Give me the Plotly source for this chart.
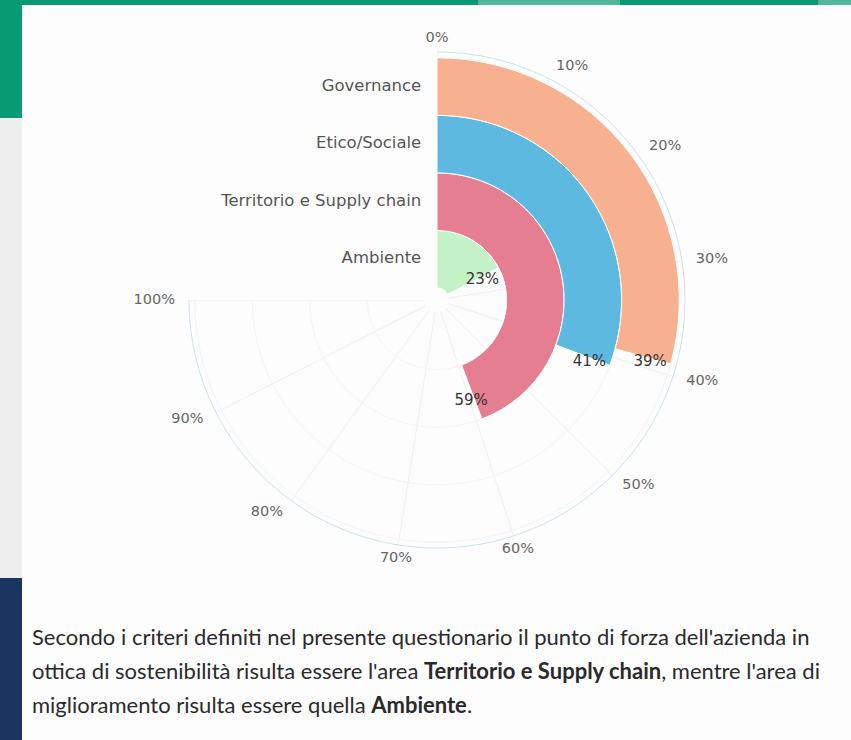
import math
import plotly.graph_objects as go

categories = ["Ambiente", "Territorio e Supply chain", "Etico/Sociale", "Governance"]
values = [23, 59, 41, 39]
colors = ["#c4f1c6", "#e57e90", "#5db9e0", "#f7b190"]
tick_pcts = [0, 10, 20, 30, 40, 50, 60, 70, 80, 90, 100]
tick_labels = [f"{t}%" for t in tick_pcts]

DEG = 270 / 100      # 100% spans three quarters of the circle
R_EDGE = 4.1         # radius of the visible outer circle (axis units)
HOLE_PX, EDGE_PX, FRAME_PX = 12, 248, 292
UNIT_PX = (EDGE_PX - HOLE_PX) / R_EDGE
R_MAX = (FRAME_PX - HOLE_PX) / UNIT_PX
CX, CY = 437, 300

fig = go.Figure()

# faint spokes, only where no bar covers them (scatter layers draw above bars)
sp_t, sp_r = [], []
for t in tick_pcts:
    a = t * DEG
    bounds = [(0, 1), (1, 2), (2, 3), (3, 4), (4, R_EDGE)]
    seg_start = None
    for k, (r0, r1) in enumerate(bounds):
        covered = k < len(values) and values[k] * DEG > a - 0.5
        if not covered and seg_start is None:
            seg_start = r0
        if covered and seg_start is not None:
            sp_t += [a, a, None]
            sp_r += [seg_start, r0, None]
            seg_start = None
    if seg_start is not None:
        sp_t += [a, a, None]
        sp_r += [seg_start, R_EDGE, None]
fig.add_trace(go.Scatterpolar(theta=sp_t, r=sp_r, mode="lines",
                              line=dict(color="#f0f0f0", width=1),
                              showlegend=False, hoverinfo="skip"))

for i, (cat, v, c) in enumerate(zip(categories, values, colors)):
    fig.add_trace(go.Barpolar(
        theta=[v * DEG / 2], width=[v * DEG], r=[1], base=[i],
        marker=dict(color=c, line=dict(color="white", width=1)),
        name=cat, showlegend=False, hoverinfo="skip",
    ))

# faint circles beyond the bars
for i, v in enumerate(values):
    th = [x / 2 for x in range(int(v * DEG * 2) + 1, 541)]
    fig.add_trace(go.Scatterpolar(theta=th, r=[i + 1] * len(th), mode="lines",
                                  line=dict(color="#f3f3f3", width=1),
                                  showlegend=False, hoverinfo="skip"))

# outer circle (axis outline)
th = list(range(0, 271))
fig.add_trace(go.Scatterpolar(theta=th, r=[R_EDGE] * len(th), mode="lines",
                              line=dict(color="#c9e2ea", width=1),
                              showlegend=False, hoverinfo="skip"))

# value labels at the end of each bar
lab_r = [i + 0.65 for i in range(len(values))]
fig.add_trace(go.Scatterpolar(
    theta=[v * DEG + math.degrees(4 / (HOLE_PX + r * UNIT_PX)) for v, r in zip(values, lab_r)],
    r=lab_r,
    mode="text", text=[f"{v}%" for v in values],
    textfont=dict(family="DejaVu Sans", size=15, color="#333333"),
    textposition="middle center", showlegend=False, hoverinfo="skip",
    cliponaxis=False,
))

# category labels left of the 0% spoke
fig.add_trace(go.Scatterpolar(
    theta=[0] * len(categories),
    r=[i + 0.5 for i in range(len(categories))],
    mode="text", text=[c + "\u00a0\u00a0\u00a0" for c in categories],
    textfont=dict(family="DejaVu Sans", size=16.5, color="#555555"),
    textposition="middle left", showlegend=False, hoverinfo="skip",
    cliponaxis=False,
))

# angular tick labels outside the outer circle
tick_theta = [t * DEG for t in tick_pcts]
tick_pos = []
for a in tick_theta:
    s = math.sin(math.radians(a))
    tick_pos.append("middle right" if s > 0.35 else ("middle left" if s < -0.35 else "middle center"))
fig.add_trace(go.Scatterpolar(
    theta=tick_theta, r=[(262 - HOLE_PX) / UNIT_PX] * len(tick_theta),
    mode="text", text=tick_labels,
    textfont=dict(family="DejaVu Sans", size=14.5, color="#666666"),
    textposition=tick_pos, showlegend=False, hoverinfo="skip",
    cliponaxis=False,
))

fig.update_layout(
    width=851, height=740,
    margin=dict(l=0, r=0, t=0, b=0),
    paper_bgcolor="#fdfdfd",
    plot_bgcolor="#fdfdfd",
    polar=dict(
        domain=dict(x=[(CX - FRAME_PX) / 851, (CX + FRAME_PX) / 851],
                    y=[1 - (CY + FRAME_PX) / 740, 1 - (CY - FRAME_PX) / 740]),
        sector=[180, 450],
        hole=HOLE_PX / FRAME_PX,
        bgcolor="rgba(0,0,0,0)",
        angularaxis=dict(
            type="linear",
            rotation=90, direction="clockwise", thetaunit="degrees",
            showticklabels=False, ticks="", showgrid=False,
            showline=False,
        ),
        radialaxis=dict(
            range=[0, R_MAX],
            showticklabels=False, showgrid=False,
            showline=False, ticks="",
        ),
    ),
    shapes=[
        dict(type="rect", xref="paper", yref="paper", x0=0, x1=1, y0=1 - 5 / 740, y1=1,
             fillcolor="#089a72", line_width=0, layer="below"),
        dict(type="rect", xref="paper", yref="paper", x0=478 / 851, x1=620 / 851, y0=1 - 5 / 740, y1=1,
             fillcolor="#52b79a", line_width=0, layer="below"),
        dict(type="rect", xref="paper", yref="paper", x0=818 / 851, x1=1, y0=1 - 5 / 740, y1=1,
             fillcolor="#52b79a", line_width=0, layer="below"),
        dict(type="rect", xref="paper", yref="paper", x0=0, x1=22 / 851, y0=1 - 118 / 740, y1=1,
             fillcolor="#089a72", line_width=0, layer="below"),
        dict(type="rect", xref="paper", yref="paper", x0=0, x1=22 / 851, y0=1 - 578 / 740, y1=1 - 118 / 740,
             fillcolor="#eeeeee", line_width=0, layer="below"),
        dict(type="rect", xref="paper", yref="paper", x0=0, x1=22 / 851, y0=0, y1=1 - 578 / 740,
             fillcolor="#1a3560", line_width=0, layer="below"),
    ],
)

para_lines = [
    "Secondo i criteri definiti nel presente questionario il punto di forza dell'azienda in",
    "ottica di sostenibilità risulta essere l'area <b>Territorio e Supply chain</b>, mentre l'area di",
    "miglioramento risulta essere quella <b>Ambiente</b>.",
]
for k, line in enumerate(para_lines):
    fig.add_annotation(
        xref="paper", yref="paper", x=30 / 851, y=1 - (636 + 34 * k) / 740,
        xanchor="left", yanchor="middle", align="left", showarrow=False,
        text=line, font=dict(family="Lato", size=22, color="#2a2a2a"),
    )

fig.write_html("out.html", config={"displayModeBar": False},
               post_script="document.body.style.margin='0';")
